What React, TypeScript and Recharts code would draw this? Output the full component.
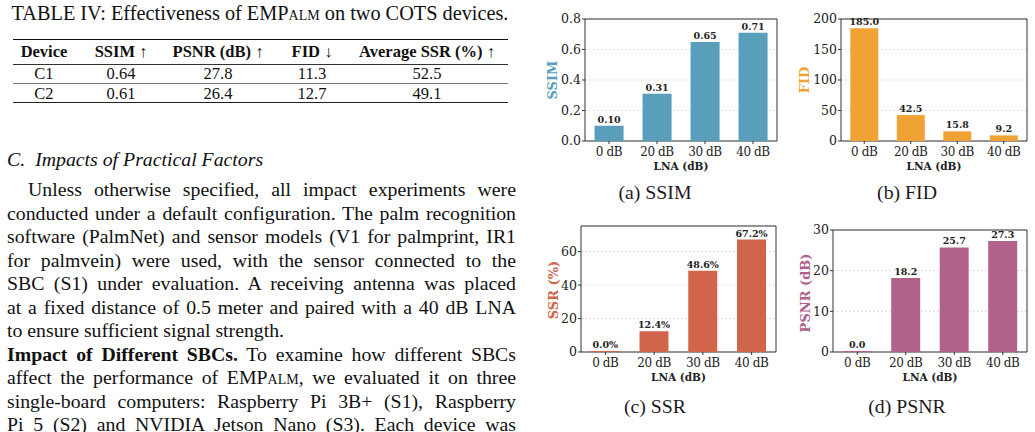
import React from "react";
import { BarChart, Bar, XAxis, YAxis, CartesianGrid, ReferenceArea, LabelList } from "recharts";

// LNA gain settings and the four metrics measured at each setting
const LNA = ["0 dB", "20 dB", "30 dB", "40 dB"];
const SSIM = [0.1, 0.31, 0.65, 0.71];
const FID = [185.0, 42.5, 15.8, 9.2];
const SSR = [0.0, 12.4, 48.6, 67.2];
const PSNR = [0.0, 18.2, 25.7, 27.3];

const SSIM_TICKS = [0, 0.2, 0.4, 0.6, 0.8];
const FID_TICKS = [0, 50, 100, 150, 200];
const SSR_TICKS = [0, 20, 40, 60];
const PSNR_TICKS = [0, 10, 20, 30];

// Table IV rows
const DEVICES = ["C1", "C2"];
const TABLE_SSIM = ["0.64", "0.61"];
const TABLE_PSNR = ["27.8", "26.4"];
const TABLE_FID = ["11.3", "12.7"];
const TABLE_SSR = ["52.5", "49.1"];

const SERIF = "'Liberation Serif', 'Times New Roman', serif";
const PLOT_FONT = "'DejaVu Serif', Georgia, serif";

type PanelProps = {
  left: number;
  top: number;
  width: number;
  height: number;
  marginTop: number;
  marginRight: number;
  yAxisWidth: number;
  values: number[];
  ticks: number[];
  yMax: number;
  color: string;
  yLabel: string;
  yLabelPos: [number, number];
  caption: string;
  captionPos: [number, number];
  tickFmt: (v: number) => string;
  valueFmt: (v: number) => string;
};

function Panel(p: PanelProps) {
  const data = LNA.map((lna, i) => ({ lna, v: p.values[i] }));
  return (
    <>
      <div style={{ position: "absolute", left: p.left, top: p.top }}>
        <BarChart
          width={p.width}
          height={p.height}
          data={data}
          margin={{ top: p.marginTop, right: p.marginRight, bottom: 0, left: 0 }}
          barCategoryGap="20%"
        >
          <CartesianGrid vertical={false} stroke="#d4d4d4" strokeDasharray="2 2" strokeWidth={0.8} />
          <XAxis
            dataKey="lna"
            interval={0}
            height={34}
            axisLine={false}
            tickSize={3}
            tickMargin={3}
            tickLine={{ stroke: "#333" }}
            tick={{ fontFamily: PLOT_FONT, fontSize: 12, fill: "#222", letterSpacing: -0.4 }}
            label={{
              value: "LNA (dB)",
              position: "insideBottom",
              offset: 5,
              style: { fontFamily: PLOT_FONT, fontSize: 10.5, fontWeight: 700, fill: "#222" },
            }}
          />
          <YAxis
            domain={[0, p.yMax]}
            ticks={p.ticks}
            width={p.yAxisWidth}
            axisLine={false}
            tickSize={3}
            tickMargin={1}
            tickLine={{ stroke: "#333" }}
            tickFormatter={p.tickFmt}
            tick={{ fontFamily: PLOT_FONT, fontSize: 12.5, fill: "#222" }}
          />
          <Bar dataKey="v" fill={p.color} minPointSize={1} isAnimationActive={false}>
            <LabelList
              dataKey="v"
              position="top"
              offset={3}
              formatter={(v: any) => p.valueFmt(Number(v))}
              style={{ fontFamily: PLOT_FONT, fontSize: 9.5, fontWeight: 700, fill: "#222" }}
            />
          </Bar>
          <ReferenceArea y1={0} y2={p.yMax} fill="none" stroke="#333" strokeWidth={1} ifOverflow="visible" />
        </BarChart>
      </div>
      <div
        style={{
          position: "absolute",
          left: p.yLabelPos[0],
          top: p.yLabelPos[1],
          transform: "translate(-50%, -50%) rotate(-90deg)",
          whiteSpace: "nowrap",
          fontFamily: PLOT_FONT,
          fontSize: 13,
          fontWeight: 700,
          color: p.color,
          lineHeight: 1,
        }}
      >
        {p.yLabel}
      </div>
      <div
        style={{
          position: "absolute",
          left: p.captionPos[0],
          top: p.captionPos[1],
          transform: "translate(-50%, -50%)",
          whiteSpace: "nowrap",
          fontFamily: SERIF,
          fontSize: 19.8,
          color: "#1a1a1a",
          lineHeight: 1,
        }}
      >
        {p.caption}
      </div>
    </>
  );
}

const LH = 23.5;
const TEXT_LEFT = 7;
const TEXT_RIGHT = 516;

function Line({ y, indent = 0, justify = true, children }: { y: number; indent?: number; justify?: boolean; children: React.ReactNode }) {
  return (
    <div
      style={{
        position: "absolute",
        left: TEXT_LEFT + indent,
        width: TEXT_RIGHT - TEXT_LEFT - indent,
        top: y - LH / 2,
        height: LH,
        lineHeight: `${LH}px`,
        whiteSpace: "nowrap",
        textAlign: justify ? "justify" : "left",
        textAlignLast: justify ? "justify" : "left",
      }}
    >
      {children}
    </div>
  );
}

const sc = (s: string) => <span style={{ fontVariant: "small-caps" }}>{s}</span>;

function Cell({ x, y, bold, children }: { x: number; y: number; bold?: boolean; children: React.ReactNode }) {
  return (
    <div
      style={{
        position: "absolute",
        left: x,
        top: y,
        transform: "translate(-50%, -50%)",
        whiteSpace: "nowrap",
        fontWeight: bold ? 700 : 400,
        lineHeight: 1,
      }}
    >
      {children}
    </div>
  );
}

function Rule({ y, w, color }: { y: number; w: number; color: string }) {
  return <div style={{ position: "absolute", left: 13, width: 495, top: y - w / 2, height: w, background: color }} />;
}

export default function App() {
  const cols = [44, 121, 218, 312, 427];
  const rowsY = [74, 94];
  const bodyY = (i: number) => 189.8 + 23.52 * i;
  return (
    <div
      style={{
        position: "fixed",
        left: 0,
        top: 0,
        width: 1035,
        height: 432,
        overflow: "hidden",
        background: "#fff",
        fontFamily: SERIF,
        fontSize: 19.8,
        color: "#111",
      }}
    >
      {/* table caption */}
      <div style={{ position: "absolute", left: TEXT_LEFT - 3, width: TEXT_RIGHT - TEXT_LEFT + 3, top: 1, textAlign: "center", lineHeight: "24px", whiteSpace: "nowrap", fontSize: 20.3 }}>
        TABLE IV: Effectiveness of EMP{sc("alm")} on two COTS devices.
      </div>

      {/* table */}
      <div style={{ position: "absolute", left: 0, top: 0, fontSize: 16.5 }}>
        <Rule y={39.5} w={1.5} color="#111" />
        <Cell x={cols[0]} y={52} bold>Device</Cell>
        <Cell x={cols[1]} y={52} bold>SSIM ↑</Cell>
        <Cell x={cols[2]} y={52} bold>PSNR (dB) ↑</Cell>
        <Cell x={cols[3]} y={52} bold>FID ↓</Cell>
        <Cell x={cols[4]} y={52} bold>Average SSR (%) ↑</Cell>
        <Rule y={64.3} w={1} color="#333" />
        {DEVICES.map((d, i) => (
          <React.Fragment key={d}>
            <Cell x={cols[0]} y={rowsY[i]}>{d}</Cell>
            <Cell x={cols[1]} y={rowsY[i]}>{TABLE_SSIM[i]}</Cell>
            <Cell x={cols[2]} y={rowsY[i]}>{TABLE_PSNR[i]}</Cell>
            <Cell x={cols[3]} y={rowsY[i]}>{TABLE_FID[i]}</Cell>
            <Cell x={cols[4]} y={rowsY[i]}>{TABLE_SSR[i]}</Cell>
          </React.Fragment>
        ))}
        <Rule y={83.7} w={1} color="#777" />
        <Rule y={102.7} w={1.2} color="#222" />
      </div>

      {/* section text */}
      <div style={{ position: "absolute", left: TEXT_LEFT, top: 160 - LH / 2, lineHeight: `${LH}px`, fontStyle: "italic", whiteSpace: "nowrap" }}>
        C.<span style={{ marginLeft: 10 }}>Impacts of Practical Factors</span>
      </div>
      <Line y={bodyY(0)} indent={21}>Unless otherwise specified, all impact experiments were</Line>
      <Line y={bodyY(1)}>conducted under a default configuration. The palm recognition</Line>
      <Line y={bodyY(2)}>software (PalmNet) and sensor models (V1 for palmprint, IR1</Line>
      <Line y={bodyY(3)}>for palmvein) were used, with the sensor connected to the</Line>
      <Line y={bodyY(4)}>SBC (S1) under evaluation. A receiving antenna was placed</Line>
      <Line y={bodyY(5)}>at a fixed distance of 0.5 meter and paired with a 40 dB LNA</Line>
      <Line y={bodyY(6)} justify={false}>to ensure sufficient signal strength.</Line>
      <Line y={bodyY(7)}>
        <b>Impact of Different SBCs.</b> To examine how different SBCs
      </Line>
      <Line y={bodyY(8)}>affect the performance of EMP{sc("alm")}, we evaluated it on three</Line>
      <Line y={bodyY(9)}>single-board computers: Raspberry Pi 3B+ (S1), Raspberry</Line>
      <Line y={bodyY(10)}>Pi 5 (S2) and NVIDIA Jetson Nano (S3). Each device was</Line>

      {/* LNA sweep panels */}
      <Panel
        left={540} top={0} width={245} height={175} marginTop={19} marginRight={8} yAxisWidth={45}
        values={SSIM} ticks={SSIM_TICKS} yMax={0.8} color="#599fbc"
        yLabel="SSIM" yLabelPos={[552, 80]} caption="(a) SSIM" captionPos={[655, 193]}
        tickFmt={(v) => v.toFixed(1)} valueFmt={(v) => v.toFixed(2)}
      />
      <Panel
        left={790} top={0} width={245} height={175} marginTop={19} marginRight={8} yAxisWidth={51}
        values={FID} ticks={FID_TICKS} yMax={200} color="#f0a334"
        yLabel="FID" yLabelPos={[804, 80]} caption="(b) FID" captionPos={[907, 193]}
        tickFmt={(v) => String(v)} valueFmt={(v) => v.toFixed(1)}
      />
      <Panel
        left={540} top={215} width={245} height={171} marginTop={11} marginRight={9} yAxisWidth={41}
        values={SSR} ticks={SSR_TICKS} yMax={75.3} color="#d1654b"
        yLabel="SSR (%)" yLabelPos={[552.7, 290]} caption="(c) SSR" captionPos={[655, 407]}
        tickFmt={(v) => String(v)} valueFmt={(v) => `${v.toFixed(1)}%`}
      />
      <Panel
        left={790} top={215} width={245} height={171} marginTop={15} marginRight={8} yAxisWidth={43}
        values={PSNR} ticks={PSNR_TICKS} yMax={30} color="#b0628b"
        yLabel="PSNR (dB)" yLabelPos={[805, 293]} caption="(d) PSNR" captionPos={[907, 407]}
        tickFmt={(v) => String(v)} valueFmt={(v) => v.toFixed(1)}
      />
    </div>
  );
}
